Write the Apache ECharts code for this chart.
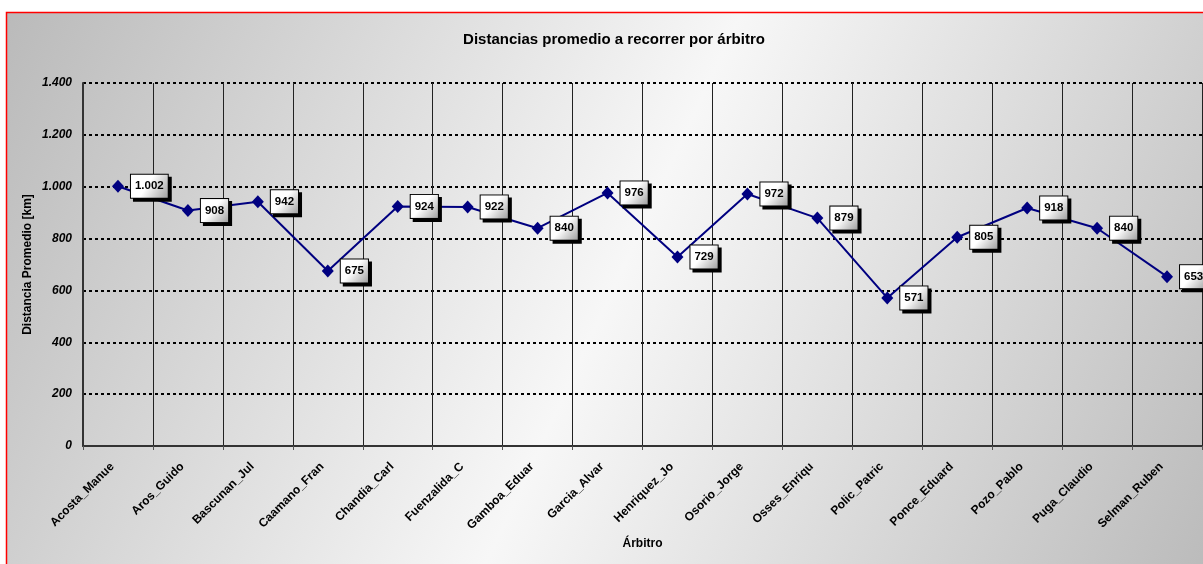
<!DOCTYPE html>
<html>
<head>
<meta charset="utf-8">
<script src="https://cdn.jsdelivr.net/npm/echarts@6/dist/echarts.min.js"></script>
<style>html,body{margin:0;padding:0;background:#fff}#c{width:1203px;height:564px}</style>
</head>
<body>
<div id="c"></div>
<script>
var categories = ['Acosta_Manue','Aros_Guido','Bascunan_Jul','Caamano_Fran','Chandia_Carl','Fuenzalida_C','Gamboa_Eduar','Garcia_Alvar','Henriquez_Jo','Osorio_Jorge','Osses_Enriqu','Polic_Patric','Ponce_Eduard','Pozo_Pablo','Puga_Claudio','Selman_Ruben'];
var distances = [1002, 908, 942, 675, 924, 922, 840, 976, 729, 972, 879, 571, 805, 918, 840, 653];
var yTicks = { min: 0, max: 1400, interval: 200 };

function fmt(v) {
  return String(v).replace(/\B(?=(\d{3})+(?!\d))/g, '.');
}
var FONT = '"Liberation Sans", Arial, sans-serif';
var chart = echarts.init(document.getElementById('c'));
chart.setOption({
  backgroundColor: '#ffffff',
  animation: false,
  graphic: [{
    type: 'rect', z: -100, silent: true,
    shape: { x: 6.5, y: 12.5, width: 1210, height: 560 },
    style: {
      fill: new echarts.graphic.LinearGradient(0, 0, 1, 1, [
        { offset: 0, color: '#bababa' },
        { offset: 0.5, color: '#f7f7f7' },
        { offset: 1, color: '#bababa' }
      ]),
      stroke: '#ff0000', lineWidth: 1.5
    }
  }],
  title: {
    text: 'Distancias promedio a recorrer por árbitro',
    left: 609, top: 27, textAlign: 'center',
    textStyle: { fontFamily: FONT, fontSize: 15, fontWeight: 'bold', color: '#000' }
  },
  grid: { left: 83, right: 1, top: 83, bottom: 118, containLabel: false },
  xAxis: {
    type: 'category', data: categories, boundaryGap: true,
    name: 'Árbitro', nameLocation: 'middle', nameGap: 92, nameMoveOverlap: false,
    nameTextStyle: { fontFamily: FONT, fontSize: 12, fontWeight: 'bold', color: '#000' },
    axisLine: { lineStyle: { color: '#333', width: 2 } },
    axisTick: { show: true, length: 4, lineStyle: { color: '#555' } },
    axisLabel: { rotate: 45, margin: 13, padding: [0, 8, 0, 0], interval: 0, fontFamily: FONT, fontSize: 12, fontWeight: 'bold', color: '#000' },
    splitLine: { show: true, lineStyle: { color: '#222', width: 1 } }
  },
  yAxis: {
    type: 'value', min: yTicks.min, max: yTicks.max, interval: yTicks.interval,
    name: 'Distancia Promedio [km]', nameLocation: 'middle', nameGap: 49, nameMoveOverlap: false,
    nameTextStyle: { fontFamily: FONT, fontSize: 12, fontWeight: 'bold', color: '#000' },
    axisLine: { show: true, lineStyle: { color: '#333', width: 2 } },
    axisTick: { show: false },
    axisLabel: { margin: 11, fontFamily: FONT, fontSize: 12, fontWeight: 'bold', fontStyle: 'italic', color: '#000', formatter: fmt },
    splitLine: { show: true, lineStyle: { color: '#000', width: 2, type: [3, 3] } }
  },
  series: [{
    type: 'line', data: distances,
    symbol: 'diamond', symbolSize: [12, 13],
    itemStyle: { color: '#000080' },
    lineStyle: { color: '#000080', width: 2 },
    label: {
      show: true, position: 'right', distance: 7,
      formatter: function (p) { return fmt(p.value); },
      fontFamily: FONT, fontSize: 11.5, fontWeight: 'bold', color: '#000',
      padding: [6, 4, 5, 4],
      borderColor: '#000', borderWidth: 1,
      backgroundColor: new echarts.graphic.LinearGradient(0, 0, 1, 1, [
        { offset: 0, color: '#ffffff' },
        { offset: 0.45, color: '#ffffff' },
        { offset: 1, color: '#9a9a9a' }
      ]),
      shadowColor: '#000', shadowOffsetX: 3, shadowOffsetY: 3, shadowBlur: 0
    }
  }]
});
</script>
</body>
</html>
